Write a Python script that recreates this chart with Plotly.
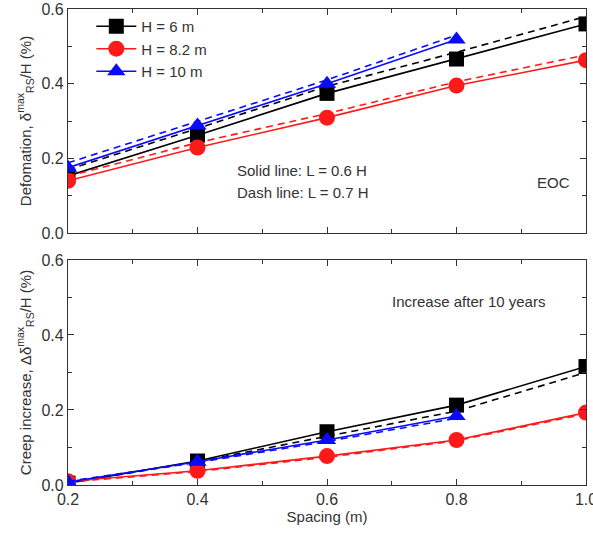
import plotly.graph_objects as go

spacing = [0.2, 0.4, 0.6, 0.8, 1.0]
spacing_h10 = [0.2, 0.4, 0.6, 0.8]

# Top panel: deformation (%)
def_h6_solid = [0.153, 0.262, 0.374, 0.466, 0.560]
def_h6_dash = [0.170, 0.280, 0.393, 0.484, 0.580]
def_h82_solid = [0.140, 0.229, 0.309, 0.395, 0.463]
def_h82_dash = [0.152, 0.242, 0.320, 0.405, 0.477]
def_h10_solid = [0.175, 0.288, 0.400, 0.518]
def_h10_dash = [0.188, 0.300, 0.410, 0.530]

# Bottom panel: creep increase (%)
crp_h6_solid = [0.005, 0.064, 0.142, 0.213, 0.316]
crp_h6_dash = [0.005, 0.062, 0.130, 0.197, 0.300]
crp_h82_solid = [0.010, 0.038, 0.077, 0.120, 0.193]
crp_h82_dash = [0.008, 0.036, 0.074, 0.118, 0.190]
crp_h10_solid = [0.008, 0.062, 0.120, 0.184]
crp_h10_dash = [0.010, 0.060, 0.116, 0.178]

names = ["H = 6 m", "H = 8.2 m", "H = 10 m"]
colors = ["#000000", "#ff1a1a", "#0a0aff"]
symbols = ["square", "circle", "triangle-up"]
msizes = [15, 16, 16]

fig = go.Figure()

top = [(spacing, def_h6_solid, def_h6_dash), (spacing, def_h82_solid, def_h82_dash),
       (spacing_h10, def_h10_solid, def_h10_dash)]
bot = [(spacing, crp_h6_solid, crp_h6_dash), (spacing, crp_h82_solid, crp_h82_dash),
       (spacing_h10, crp_h10_solid, crp_h10_dash)]

for panel, (xa, ya), showleg in [(top, ("x", "y"), True), (bot, ("x2", "y2"), False)]:
    for i, (xs, ys, yd) in enumerate(panel):
        fig.add_trace(go.Scatter(x=xs, y=yd, mode="lines", xaxis=xa, yaxis=ya,
                                 line=dict(color=colors[i], width=1.6, dash="7px,5px"),
                                 showlegend=False, hoverinfo="skip"))
        fig.add_trace(go.Scatter(x=xs, y=ys, mode="lines+markers", xaxis=xa, yaxis=ya,
                                 name=names[i], showlegend=showleg,
                                 line=dict(color=colors[i], width=1.6),
                                 marker=dict(symbol=symbols[i], size=msizes[i], color=colors[i])))

axcol = "#333333"
txtcol = "#333333"
fam = "Liberation Sans, Arial, sans-serif"
tickfont = dict(family=fam, size=16, color=txtcol)
common_x = dict(range=[0.2, 1.0], tickvals=[0.2, 0.4, 0.6, 0.8, 1.0], showline=True,
                linecolor=axcol, linewidth=1.2, mirror="allticks", ticks="inside", ticklen=6,
                tickcolor=axcol, showgrid=False, zeroline=False, automargin=False,
                minor=dict(tickvals=[0.3, 0.5, 0.7, 0.9], ticks="inside", ticklen=4, tickcolor=axcol))
common_y = dict(range=[0, 0.6], tickvals=[0, 0.2, 0.4, 0.6], ticktext=["0.0", "0.2", "0.4", "0.6"],
                showline=True, linecolor=axcol, linewidth=1.2, mirror="allticks", ticks="inside",
                ticklen=6, tickcolor=axcol, showgrid=False, zeroline=False, tickfont=tickfont,
                automargin=False,
                minor=dict(tickvals=[0.1, 0.3, 0.5], ticks="inside", ticklen=4, tickcolor=axcol))

annfont = dict(family=fam, size=15, color=txtcol)

fig.update_layout(
    width=593, height=536,
    margin=dict(l=68, r=7, t=9, b=51),
    plot_bgcolor="white", paper_bgcolor="white",
    font=dict(family=fam, color=txtcol),
    xaxis=dict(common_x, domain=[0, 1], anchor="y", showticklabels=False),
    yaxis=dict(common_y, domain=[0.5294, 1.0], anchor="x",
               title=dict(text="Defomation, δ<sup>max</sup><sub>RS</sub>/H (%)", font=dict(size=15), standoff=6)),
    xaxis2=dict(common_x, domain=[0, 1], anchor="y2", tickfont=tickfont,
                tickformat=".1f", ticklabeloverflow="allow",
                title=dict(text="Spacing (m)", font=dict(size=15), standoff=2)),
    yaxis2=dict(common_y, domain=[0, 0.4727], anchor="x2",
                title=dict(text="Creep increase, Δδ<sup>max</sup><sub>RS</sub>/H (%)", font=dict(size=15), standoff=6)),
    legend=dict(x=0.045, y=0.998, xanchor="left", yanchor="top", bgcolor="rgba(0,0,0,0)",
                font=dict(size=15, color=txtcol), itemwidth=40, tracegroupgap=0),
    annotations=[
        dict(text="Solid line: L = 0.6 H", x=0.458, y=0.168, xref="x", yref="y", xanchor="left",
             showarrow=False, font=annfont),
        dict(text="Dash line: L = 0.7 H", x=0.458, y=0.108, xref="x", yref="y", xanchor="left",
             showarrow=False, font=annfont),
        dict(text="EOC", x=0.978, y=0.136, xref="x", yref="y", xanchor="right",
             showarrow=False, font=annfont),
        dict(text="Increase after 10 years", x=0.698, y=0.489, xref="x2", yref="y2", xanchor="left",
             showarrow=False, font=annfont),
    ],
)

fig.write_html("out.html")
